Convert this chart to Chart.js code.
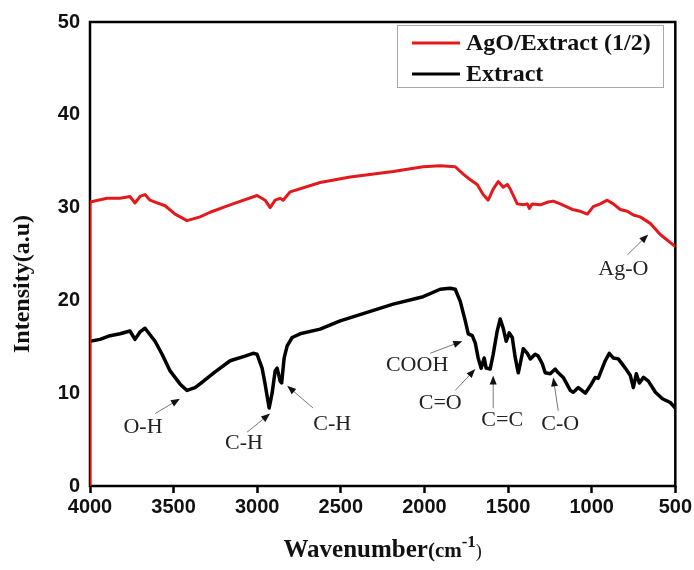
<!DOCTYPE html>
<html>
<head>
<meta charset="utf-8">
<script src="https://cdn.jsdelivr.net/npm/chart.js@4.4.1/dist/chart.umd.min.js"></script>
<style>
  html, body { margin: 0; padding: 0; background: #fff; }
  #wrap { width: 694px; height: 570px; }
</style>
</head>
<body>
<div id="wrap"><canvas id="ftir" width="694" height="570"></canvas></div>
<script>
// FTIR spectra: wavenumber (cm-1) and intensity (a.u)
const seriesNames = ['AgO/Extract (1/2)', 'Extract'];

const agoWave = [4000, 4000, 3898, 3820, 3761, 3731, 3701, 3671, 3641, 3611, 3551, 3491, 3420, 3342, 3282, 3162, 3001, 2953, 2923, 2893, 2863, 2845, 2803, 2624, 2444, 2187, 2008, 1906, 1816, 1768, 1726, 1685, 1649, 1619, 1589, 1559, 1529, 1505, 1487, 1445, 1409, 1385, 1373, 1356, 1308, 1260, 1230, 1188, 1116, 1068, 1026, 991, 949, 907, 871, 829, 787, 751, 710, 650, 590, 500];
const agoVal = [0, 30.6, 31.0, 31.0, 31.2, 30.5, 31.2, 31.4, 30.8, 30.6, 30.2, 29.3, 28.6, 29.0, 29.5, 30.3, 31.3, 30.8, 30.0, 30.8, 31.0, 30.8, 31.7, 32.7, 33.3, 33.9, 34.4, 34.5, 34.4, 33.6, 33.0, 32.5, 31.4, 30.8, 32.0, 32.8, 32.2, 32.5, 32.0, 30.4, 30.3, 30.4, 29.9, 30.4, 30.3, 30.6, 30.7, 30.4, 29.8, 29.6, 29.3, 30.1, 30.4, 30.8, 30.4, 29.8, 29.6, 29.2, 29.0, 28.3, 27.1, 25.8];

const extractWave = [4000, 3940, 3880, 3820, 3761, 3731, 3701, 3671, 3641, 3611, 3569, 3521, 3462, 3420, 3372, 3342, 3252, 3162, 3073, 3025, 3001, 2971, 2953, 2929, 2911, 2893, 2881, 2863, 2854, 2839, 2821, 2791, 2744, 2624, 2504, 2187, 2008, 1906, 1846, 1816, 1786, 1756, 1738, 1714, 1696, 1679, 1661, 1643, 1631, 1607, 1589, 1565, 1547, 1529, 1511, 1493, 1475, 1457, 1439, 1427, 1409, 1385, 1367, 1338, 1320, 1296, 1278, 1248, 1218, 1200, 1170, 1128, 1110, 1080, 1038, 1008, 979, 961, 919, 895, 871, 841, 799, 769, 751, 733, 715, 690, 661, 619, 577, 530, 500];
const extractVal = [15.6, 15.8, 16.2, 16.4, 16.7, 15.8, 16.6, 17.0, 16.3, 15.6, 14.2, 12.4, 11.0, 10.3, 10.6, 11.0, 12.3, 13.5, 14.0, 14.3, 14.2, 12.7, 11.0, 8.4, 10.0, 12.4, 12.7, 11.3, 11.1, 13.8, 15.1, 16.0, 16.4, 16.9, 17.8, 19.6, 20.4, 21.2, 21.3, 21.2, 19.9, 17.8, 16.4, 16.2, 15.4, 13.8, 12.7, 13.8, 12.7, 12.6, 14.2, 16.7, 18.0, 17.0, 15.6, 16.5, 16.0, 13.8, 12.2, 13.2, 14.8, 14.3, 13.7, 14.2, 14.0, 13.2, 12.2, 12.1, 12.6, 12.2, 11.7, 10.3, 10.1, 10.6, 10.0, 10.8, 11.7, 11.6, 13.5, 14.3, 13.8, 13.7, 12.7, 11.9, 10.6, 12.1, 11.1, 11.7, 11.3, 10.1, 9.4, 9.0, 8.4];

const xTicks = [4000, 3500, 3000, 2500, 2000, 1500, 1000, 500];
const yTicks = [0, 10, 20, 30, 40, 50];

// band assignments: label spot, arrow tail, arrow head (wavenumber, intensity)
const bandLabels = ['Ag-O', 'O-H', 'C-H', 'C-H', 'COOH', 'C=O', 'C=C', 'C-O'];
const bandText = [[811, 23.4], [3683, 6.3], [3079, 4.6], [2552, 6.7], [2044, 13.0], [1906, 8.9], [1535, 7.1], [1188, 6.7]];
const bandTail = [[787, 24.9], [3611, 7.8], [3061, 5.8], [2666, 8.4], [1966, 14.3], [1816, 10.3], [1589, 8.4], [1200, 8.1]];
const bandHead = [[662, 27.1], [3462, 9.4], [2923, 7.8], [2821, 10.8], [1774, 15.6], [1696, 12.6], [1589, 11.9], [1230, 11.7]];

const toPoints = (xs, ys) => xs.map((x, i) => ({ x: x, y: ys[i] }));

const frame = {
    id: 'frame',
    beforeDatasetsDraw(chart) {
        const { ctx, chartArea: a } = chart;
        ctx.save();
        ctx.strokeStyle = '#000';
        ctx.lineWidth = 2.5;
        ctx.strokeRect(a.left, a.top, a.right - a.left, a.bottom - a.top);
        ctx.restore();
    }
};

const extras = {
    id: 'extras',
    afterDatasetsDraw(chart) {
        const { ctx, chartArea: a, scales } = chart;
        const px = p => [scales.x.getPixelForValue(p[0]), scales.y.getPixelForValue(p[1])];
        ctx.save();

        // band arrows and labels
        bandLabels.forEach((label, i) => {
            const [tx, ty] = px(bandTail[i]);
            const [hx, hy] = px(bandHead[i]);
            const ang = Math.atan2(hy - ty, hx - tx);
            ctx.strokeStyle = '#777';
            ctx.lineWidth = 1;
            ctx.beginPath();
            ctx.moveTo(tx, ty);
            ctx.lineTo(hx - 6 * Math.cos(ang), hy - 6 * Math.sin(ang));
            ctx.stroke();
            ctx.fillStyle = '#111';
            ctx.beginPath();
            ctx.moveTo(hx, hy);
            ctx.lineTo(hx - 9 * Math.cos(ang) + 3.5 * Math.sin(ang), hy - 9 * Math.sin(ang) - 3.5 * Math.cos(ang));
            ctx.lineTo(hx - 9 * Math.cos(ang) - 3.5 * Math.sin(ang), hy - 9 * Math.sin(ang) + 3.5 * Math.cos(ang));
            ctx.closePath();
            ctx.fill();

            const [lx, ly] = px(bandText[i]);
            ctx.fillStyle = '#222';
            ctx.font = '22px "Liberation Serif", serif';
            ctx.textAlign = 'center';
            ctx.textBaseline = 'middle';
            ctx.fillText(label, lx, ly);
        });

        // legend box
        const lx0 = 397, ly0 = 25, lw = 266, lh = 62;
        ctx.fillStyle = '#fff';
        ctx.fillRect(lx0, ly0, lw, lh);
        ctx.strokeStyle = '#aaa';
        ctx.lineWidth = 1;
        ctx.strokeRect(lx0 + 0.5, ly0 + 0.5, lw, lh);
        chart.data.datasets.forEach((ds, i) => {
            const y = ly0 + 18 + i * 31;
            ctx.strokeStyle = ds.borderColor;
            ctx.lineWidth = 3;
            ctx.beginPath();
            ctx.moveTo(lx0 + 15, y);
            ctx.lineTo(lx0 + 63, y);
            ctx.stroke();
            ctx.fillStyle = '#111';
            ctx.font = 'bold 24px "Liberation Serif", serif';
            ctx.textAlign = 'left';
            ctx.textBaseline = 'middle';
            ctx.fillText(ds.label, lx0 + 69, y + 1);
        });

        // axis titles
        ctx.fillStyle = '#111';
        ctx.save();
        ctx.translate(23, (a.top + a.bottom) / 2 + 30);
        ctx.rotate(-Math.PI / 2);
        ctx.font = 'bold 24px "Liberation Serif", serif';
        ctx.textAlign = 'center';
        ctx.textBaseline = 'middle';
        ctx.fillText('Intensity(a.u)', 0, 0);
        ctx.restore();

        const parts = [
            { t: 'Wavenumber', f: 'bold 25px "Liberation Serif", serif', dy: 0 },
            { t: '(cm', f: 'bold 21px "Liberation Serif", serif', dy: 0 },
            { t: '-1', f: 'bold 17px "Liberation Serif", serif', dy: -10 },
            { t: ')', f: '18px "Liberation Serif", serif', dy: 0 }
        ];
        let total = 0;
        parts.forEach(p => { ctx.font = p.f; p.w = ctx.measureText(p.t).width; total += p.w; });
        let x = (a.left + a.right) / 2 - total / 2;
        const base = 557;
        ctx.textAlign = 'left';
        ctx.textBaseline = 'alphabetic';
        parts.forEach(p => {
            ctx.font = p.f;
            ctx.fillText(p.t, x, base + p.dy);
            x += p.w;
        });
        ctx.restore();
    }
};

const tickFont = { family: '"Liberation Sans", Arial, sans-serif', size: 20, weight: 'bold' };

new Chart(document.getElementById('ftir'), {
    type: 'line',
    data: {
        datasets: [
            {
                label: seriesNames[0],
                data: toPoints(agoWave, agoVal),
                borderColor: '#e3191c',
                borderWidth: 3,
                borderJoinStyle: 'round',
                pointRadius: 0,
                tension: 0
            },
            {
                label: seriesNames[1],
                data: toPoints(extractWave, extractVal),
                borderColor: '#000',
                borderWidth: 3.5,
                borderJoinStyle: 'round',
                pointRadius: 0,
                tension: 0
            }
        ]
    },
    options: {
        responsive: false,
        animation: false,
        layout: { padding: { left: 0, right: 18, top: 19, bottom: 0 } },
        plugins: { legend: { display: false }, tooltip: { enabled: false } },
        scales: {
            x: {
                type: 'linear',
                reverse: true,
                min: 500,
                max: 4000,
                afterBuildTicks: s => { s.ticks = xTicks.map(v => ({ value: v })); },
                afterFit: s => { s.height = 84; },
                grid: { drawOnChartArea: false, drawTicks: true, tickLength: 7, tickColor: '#000', tickWidth: 2.5 },
                border: { display: false },
                ticks: {
                    color: '#111',
                    padding: 2,
                    maxRotation: 0,
                    callback: v => String(v),
                    font: tickFont
                }
            },
            y: {
                min: 0,
                max: 50,
                afterBuildTicks: s => { s.ticks = yTicks.map(v => ({ value: v })); },
                afterFit: s => { s.width = 90; },
                grid: { display: false, drawTicks: false },
                border: { display: false },
                ticks: {
                    color: '#111',
                    padding: 10,
                    callback: v => String(v),
                    font: tickFont
                }
            }
        }
    },
    plugins: [frame, extras]
});
</script>
</body>
</html>
